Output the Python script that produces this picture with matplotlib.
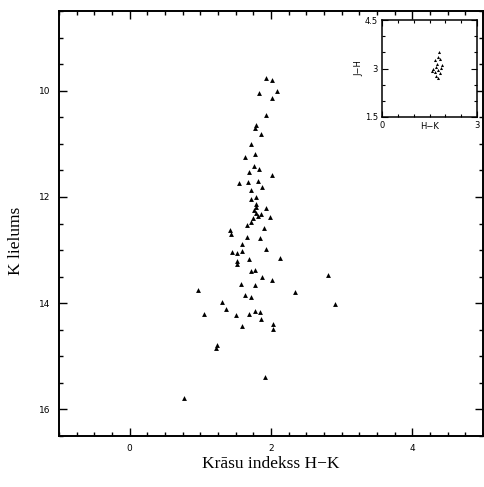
import matplotlib.pyplot as plt
from matplotlib.ticker import MultipleLocator

#----------------------------------------------------
# Data: colour index H-K and K magnitude
#----------------------------------------------------
HK = [1.934, 2.014, 2.080, 1.832, 2.010, 1.926, 1.786, 1.776, 1.864, 1.720,
      1.776, 1.627, 1.762, 1.832, 1.688, 2.014, 1.552, 1.678, 1.818, 1.874,
      1.724, 1.794, 1.724, 1.794, 1.934, 1.762, 1.794, 1.856, 1.982, 1.716,
      1.655, 1.422, 1.436, 1.902, 1.664, 1.842, 1.585, 1.934, 1.445, 1.515,
      1.594, 1.524, 1.515, 1.692, 2.130, 1.724, 1.780, 1.874, 2.014, 2.804,
      1.573, 1.772, 0.969, 2.343, 1.632, 1.716, 1.305, 1.364, 2.913, 1.059,
      1.503, 1.688, 1.780, 1.842, 1.856, 2.035, 2.028, 1.585, 1.227, 1.912,
      0.769, 1.818, 1.748, 1.790, 1.238]
Kmag = [9.77, 9.80, 10.01, 10.05, 10.14, 10.45, 10.64, 10.70, 10.82, 11.01,
        11.19, 11.24, 11.41, 11.47, 11.53, 11.59, 11.74, 11.72, 11.70, 11.81,
        11.87, 12.00, 12.04, 12.13, 12.21, 12.25, 12.31, 12.33, 12.37, 12.47,
        12.52, 12.62, 12.70, 12.59, 12.75, 12.77, 12.89, 12.98, 13.03, 13.06,
        13.01, 13.20, 13.27, 13.17, 13.15, 13.40, 13.37, 13.50, 13.57, 13.46,
        13.63, 13.66, 13.76, 13.79, 13.84, 13.89, 13.98, 14.11, 14.02, 14.21,
        14.23, 14.20, 14.14, 14.17, 14.30, 14.39, 14.49, 14.43, 14.84, 15.38,
        15.78, 12.36, 12.39, 12.19, 14.79]

# inset: J-H versus H-K
inset_HK = [1.62, 1.70, 1.78, 1.86, 1.74, 1.66, 1.82, 1.72, 1.90, 1.58,
            1.76, 1.80, 1.68, 1.84, 1.78]
inset_JH = [3.00, 3.05, 2.95, 3.02, 3.15, 2.88, 2.85, 2.78, 3.10, 2.92,
            3.35, 3.50, 3.25, 3.28, 2.70]

#----------------------------------------------------
# Main plot
#----------------------------------------------------
fig = plt.figure(figsize=(4.85, 4.87), dpi=100)
ax = fig.add_axes([0.1216, 0.1047, 0.874, 0.8727])

ax.plot(HK, Kmag, 'k^', markersize=3.5, markeredgewidth=0)
ax.set_xlim(-1, 5)
ax.set_ylim(16.5, 8.5)

ax.xaxis.set_major_locator(MultipleLocator(2))
ax.xaxis.set_minor_locator(MultipleLocator(0.25))
ax.yaxis.set_major_locator(MultipleLocator(2))
ax.yaxis.set_minor_locator(MultipleLocator(0.5))
ax.tick_params(which='both', direction='in', top=True, right=True, width=1)
ax.tick_params(which='major', length=6, labelsize=6.5, pad=6)
ax.tick_params(which='minor', length=3)
for s in ax.spines.values():
    s.set_linewidth(1.4)

ax.set_xlabel('Krāsu indekss H−K', fontsize=12.5, family='Liberation Serif')
ax.set_ylabel('K lielums', fontsize=12.5, family='Liberation Serif')
ax.xaxis.set_label_coords(0.5, -0.047)
ax.yaxis.set_label_coords(-0.083, 0.46)

#----------------------------------------------------
# Inset colour-colour diagram
#----------------------------------------------------
ins = fig.add_axes([0.7876, 0.7598, 0.196, 0.199])
ins.plot(inset_HK, inset_JH, 'k^', markersize=2.2, markeredgewidth=0)
ins.set_xlim(0, 3)
ins.set_ylim(1.5, 4.5)
ins.set_xticks([0, 3])
ins.set_yticks([1.5, 3, 4.5])
ins.set_yticklabels(['1.5', '3', '4.5'])
ins.xaxis.set_minor_locator(MultipleLocator(0.5))
ins.yaxis.set_minor_locator(MultipleLocator(0.5))
ins.tick_params(which='both', direction='in', top=True, right=True, width=0.8)
ins.tick_params(which='major', length=4, labelsize=6, pad=3)
ins.tick_params(which='minor', length=2)
for s in ins.spines.values():
    s.set_linewidth(1.1)
ins.set_xlabel('H−K', fontsize=6, labelpad=-6)
ins.set_ylabel('J−H', fontsize=6, labelpad=1)

fig.savefig('out.png', dpi=100)
